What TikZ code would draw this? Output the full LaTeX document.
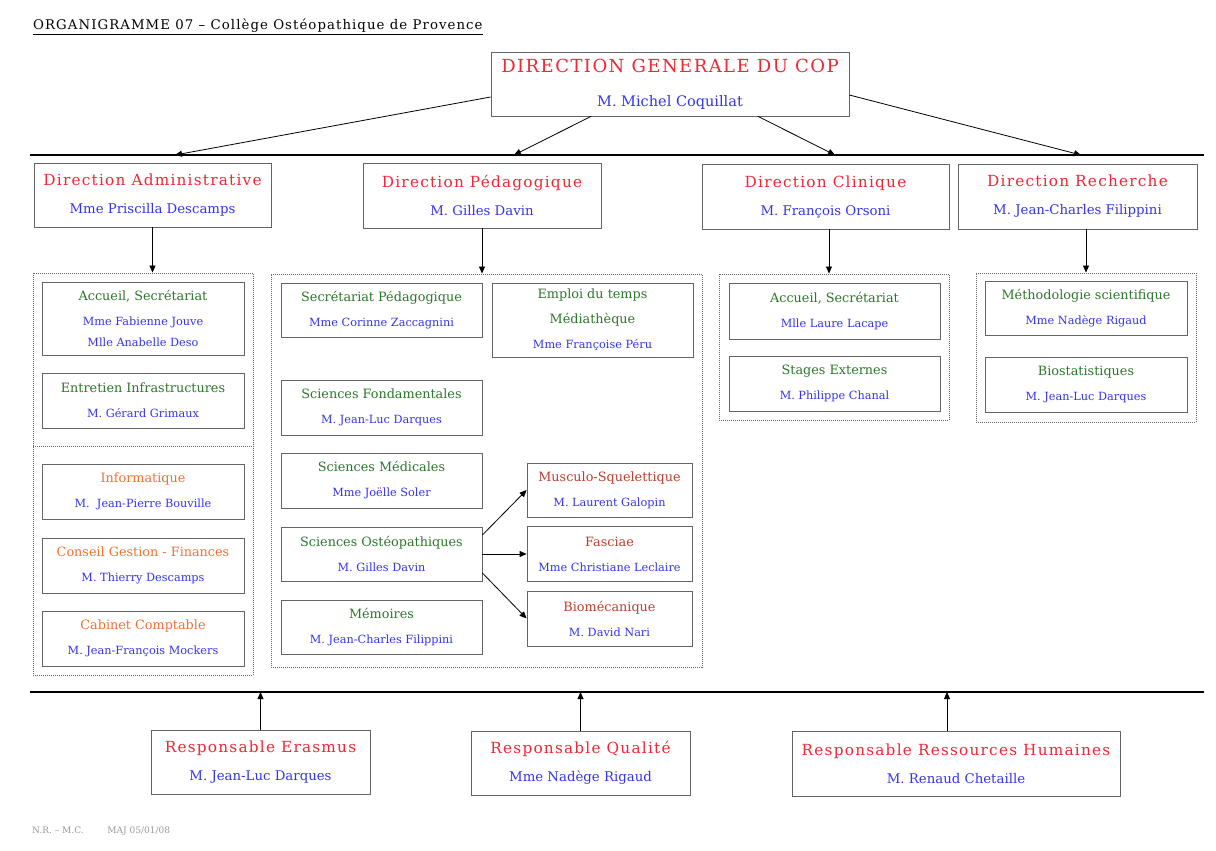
\documentclass[tikz,border=0pt]{standalone}
\usepackage{fontspec}
\setmainfont{DejaVu Serif}
\newfontfamily\spacedfont[LetterSpace=8,Ligatures=TeX]{DejaVu Serif}
\usetikzlibrary{arrows.meta}

\definecolor{cred}{RGB}{242,38,52}
\definecolor{cblue}{RGB}{52,52,235}
\definecolor{cgreen}{RGB}{45,118,45}
\definecolor{corange}{RGB}{240,112,52}
\definecolor{cbrown}{RGB}{188,62,46}
\definecolor{cgray}{RGB}{100,100,100}

% text styles
\newcommand{\bigtitle}[1]{{\spacedfont\fontsize{18}{20}\selectfont\color{cred}#1}}
\newcommand{\dirtitle}[1]{{\spacedfont\fontsize{15.3}{17}\selectfont\color{cred}#1}}
\newcommand{\dirname}[1]{{\fontsize{13.3}{15}\selectfont\color{cblue}#1}}
\newcommand{\unittitle}[2]{{\fontsize{12.8}{14}\selectfont\color{#1}#2}}
\newcommand{\unitname}[1]{{\fontsize{11.3}{13}\selectfont\color{cblue}#1}}

\begin{document}
\begin{tikzpicture}[x=1pt,y=-1pt,
    box/.style={draw=cgray,line width=0.8pt,inner sep=0pt,align=center,font=\fontsize{12}{14}\selectfont},
    group/.style={draw=cgray,line width=0.9pt,dash pattern=on 1pt off 1pt,inner sep=0pt},
    link/.style={line width=0.8pt,-{Triangle[length=7pt,width=6pt]}},
    bus/.style={line width=1.8pt}]
    \useasboundingbox[fill=white] (0,0) rectangle (1216,851);

    % title
    \node[anchor=base west,inner sep=0pt] (titre) at (33,30)
        {\spacedfont\fontsize{13.3}{15}\selectfont\underline{ORGANIGRAMME 07 – Collège Ostéopathique de Provence}};

    % direction generale
    \node[box,minimum width=358,minimum height=64] (dg) at (670,84)
        {\bigtitle{DIRECTION GENERALE DU COP}\\[20pt]{\fontsize{14.5}{16}\selectfont\color{cblue}M. Michel Coquillat}};

    % upper bus
    \coordinate (topL) at (30,155);
    \coordinate (topR) at (1204,155);
    \draw[bus] (topL) -- (topR);
    \coordinate (t1) at (175,155);
    \coordinate (t2) at (514,155);
    \coordinate (t3) at (835,155);
    \coordinate (t4) at (1081,155);
    \draw[link] ([yshift=-13pt]dg.west) -- (t1);
    \draw[link] ([xshift=-79pt]dg.south) -- (t2);
    \draw[link] ([xshift=88pt]dg.south) -- (t3);
    \draw[link] ([yshift=-11pt]dg.east) -- (t4);

    % directions
    \node[box,minimum width=237,minimum height=64] (adm) at (152.5,195)
        {\dirtitle{Direction Administrative}\\[14pt]\dirname{Mme Priscilla Descamps}};
    \node[box,minimum width=238,minimum height=65] (ped) at (482,195.5)
        {\dirtitle{Direction Pédagogique}\\[14pt]\dirname{M. Gilles Davin}};
    \node[box,minimum width=247,minimum height=65] (cli) at (825.5,196.5)
        {\dirtitle{Direction Clinique}\\[14pt]\dirname{M. François Orsoni}};
    \node[box,minimum width=239,minimum height=65] (rec) at (1077.5,196.5)
        {\dirtitle{Direction Recherche}\\[14pt]\dirname{M. Jean-Charles Filippini}};

    % dotted groups
    \node[group,minimum width=220,minimum height=402] (admgrp) at (143,474) {};
    \node[group,minimum width=431,minimum height=393] (pedgrp) at (486.5,470.5) {};
    \node[group,minimum width=230,minimum height=146] (cligrp) at (834,347) {};
    \node[group,minimum width=220,minimum height=149] (recgrp) at (1086,347.5) {};
    \coordinate (sepL) at (33,446);
    \draw[group] (sepL) -- (sepL -| admgrp.east);

    \draw[link] (adm.south) -- (adm.south |- admgrp.north);
    \draw[link] (ped.south) -- (ped.south |- pedgrp.north);
    \draw[link] ([xshift=3.5pt]cli.south) -- ([xshift=3.5pt]cli.south |- cligrp.north);
    \draw[link] ([xshift=8.5pt]rec.south) -- ([xshift=8.5pt]rec.south |- recgrp.north);

    % administration
    \node[box,minimum width=202,minimum height=73] (acc1) at (143,318.5)
        {\unittitle{cgreen}{Accueil, Secrétariat}\\[11pt]\unitname{Mme Fabienne Jouve}\\[7pt]\unitname{Mlle Anabelle Deso}};
    \node[box,minimum width=202,minimum height=55] (ent) at (143,400.5)
        {\unittitle{cgreen}{Entretien Infrastructures}\\[11pt]\unitname{M. Gérard Grimaux}};
    \node[box,minimum width=202,minimum height=55] (info) at (143,491.5)
        {\unittitle{corange}{Informatique}\\[11pt]\unitname{M.\ \ Jean-Pierre Bouville}};
    \node[box,minimum width=202,minimum height=55] (cons) at (143,565.5)
        {\unittitle{corange}{Conseil Gestion - Finances}\\[11pt]\unitname{M. Thierry Descamps}};
    \node[box,minimum width=202,minimum height=55] (cab) at (143,638.5)
        {\unittitle{corange}{Cabinet Comptable}\\[11pt]\unitname{M. Jean-François Mockers}};

    % pedagogie
    \node[box,minimum width=201,minimum height=54] (secp) at (381.5,310)
        {\unittitle{cgreen}{Secrétariat Pédagogique}\\[11pt]\unitname{Mme Corinne Zaccagnini}};
    \node[box,minimum width=201,minimum height=74] (edt) at (592.5,320)
        {\unittitle{cgreen}{Emploi du temps}\\[11pt]\unittitle{cgreen}{Médiathèque}\\[11pt]\unitname{Mme Françoise Péru}};
    \node[box,minimum width=201,minimum height=55] (scif) at (381.5,407.5)
        {\unittitle{cgreen}{Sciences Fondamentales}\\[11pt]\unitname{M. Jean-Luc Darques}};
    \node[box,minimum width=201,minimum height=55] (scim) at (381.5,480.5)
        {\unittitle{cgreen}{Sciences Médicales}\\[11pt]\unitname{Mme Joëlle Soler}};
    \node[box,minimum width=201,minimum height=54] (scio) at (381.5,554)
        {\unittitle{cgreen}{Sciences Ostéopathiques}\\[11pt]\unitname{M. Gilles Davin}};
    \node[box,minimum width=201,minimum height=54] (mem) at (381.5,627)
        {\unittitle{cgreen}{Mémoires}\\[11pt]\unitname{M. Jean-Charles Filippini}};
    \node[box,minimum width=165,minimum height=54] (musc) at (609.5,490)
        {\unittitle{cbrown}{Musculo-Squelettique}\\[11pt]\unitname{M. Laurent Galopin}};
    \node[box,minimum width=165,minimum height=55] (fasc) at (609.5,554)
        {\unittitle{cbrown}{Fasciae}\\[11pt]\unitname{Mme Christiane Leclaire}};
    \node[box,minimum width=165,minimum height=55] (bio) at (609.5,618.5)
        {\unittitle{cbrown}{Biomécanique}\\[11pt]\unitname{M. David Nari}};
    \draw[link] ([yshift=19pt]scio.east) -- (musc.west);
    \draw[link] (scio.east) -- (fasc.west);
    \draw[link] ([yshift=-19pt]scio.east) -- (bio.west);

    % clinique
    \node[box,minimum width=211,minimum height=56] (acc2) at (834.5,311)
        {\unittitle{cgreen}{Accueil, Secrétariat}\\[11pt]\unitname{Mlle Laure Lacape}};
    \node[box,minimum width=211,minimum height=55] (stag) at (834.5,383.5)
        {\unittitle{cgreen}{Stages Externes}\\[11pt]\unitname{M. Philippe Chanal}};

    % recherche
    \node[box,minimum width=202,minimum height=54] (meth) at (1086,308)
        {\unittitle{cgreen}{Méthodologie scientifique}\\[11pt]\unitname{Mme Nadège Rigaud}};
    \node[box,minimum width=202,minimum height=55] (biost) at (1086,384.5)
        {\unittitle{cgreen}{Biostatistiques}\\[11pt]\unitname{M. Jean-Luc Darques}};

    % lower bus
    \coordinate (botL) at (30,692);
    \coordinate (botR) at (1204,692);
    \draw[bus] (botL) -- (botR);

    % responsables
    \node[box,minimum width=219,minimum height=64] (eras) at (260.5,762)
        {\dirtitle{Responsable Erasmus}\\[14pt]\dirname{M. Jean-Luc Darques}};
    \node[box,minimum width=219,minimum height=64] (qual) at (580.5,763)
        {\dirtitle{Responsable Qualité}\\[14pt]\dirname{Mme Nadège Rigaud}};
    \node[box,minimum width=328,minimum height=65] (rh) at (956,763.5)
        {\dirtitle{Responsable Ressources Humaines}\\[14pt]\dirname{M. Renaud Chetaille}};
    \draw[link] (eras.north) -- (eras.north |- botL);
    \draw[link] (qual.north) -- (qual.north |- botL);
    \draw[link] ([xshift=-9pt]rh.north) -- ([xshift=-9pt]rh.north |- botL);

    % footer
    \node[anchor=base west,inner sep=0pt,text=gray!80,font=\fontsize{9}{11}\selectfont] (pied) at (32,833)
        {N.R. – M.C. \qquad\ MAJ 05/01/08};
\end{tikzpicture}
\end{document}
